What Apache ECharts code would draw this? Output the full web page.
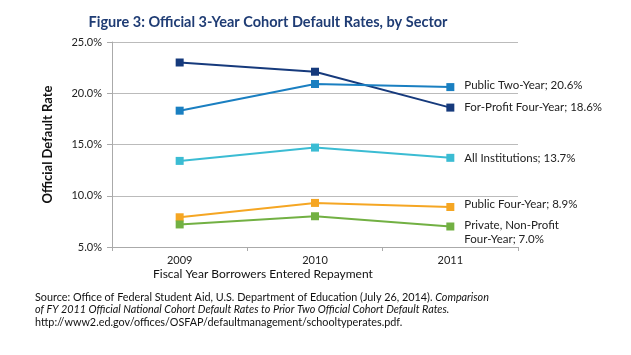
<!DOCTYPE html>
<html><head><meta charset="utf-8">
<script src="https://cdn.jsdelivr.net/npm/echarts@6/dist/echarts.min.js"></script>
<style>html,body{margin:0;padding:0;background:#fff}#c{width:631px;height:355px}</style>
</head><body><div id="c"></div>
<script>
const categories = ['2009', '2010', '2011'];
const forProfitFour = [23.0, 22.1, 18.6];
const publicTwo = [18.3, 20.9, 20.6];
const allInst = [13.4, 14.7, 13.7];
const publicFour = [7.9, 9.3, 8.9];
const privateNonProfit = [7.2, 8.0, 7.0];
const yTicks = [5, 10, 15, 20, 25];

const FONT = 'Lato';
function mk(name, data, color, labelText, lab) {
  return {
    name, type: 'line', data: data.map((v, i) => {
      if (i === data.length - 1) {
        return { value: v, label: Object.assign({ show: true, position: 'right', distance: 10,
          formatter: labelText, color: '#222', fontFamily: FONT, fontSize: 11.5, lineHeight: 14 }, lab || {}) };
      }
      return v;
    }),
    symbol: 'rect', symbolSize: 8, color, lineStyle: { width: 2, color },
    itemStyle: { color }, animation: false
  };
}
const chart = echarts.init(document.getElementById('c'));
chart.setOption({
  animation: false,
  textStyle: { fontFamily: FONT },
  grid: { left: 112, right: 113, top: 42, bottom: 108 },
  title: { text: 'Figure 3: Official 3-Year Cohort Default Rates, by Sector', left: 263, top: 10, textAlign: 'center',
    textStyle: { color: '#1f3c74', fontFamily: FONT, fontSize: 14.5, fontWeight: 'bold' } },
  xAxis: { type: 'category', data: categories, boundaryGap: true,
    axisLine: { lineStyle: { color: '#aaa' } }, axisTick: { show: true, length: 4, lineStyle: { color: '#aaa' } },
    axisLabel: { color: '#222', fontSize: 11, margin: 8, fontFamily: FONT } },
  yAxis: { type: 'value', min: yTicks[0], max: yTicks[yTicks.length - 1], interval: 5,
    axisLine: { show: true, lineStyle: { color: '#aaa' } }, axisTick: { show: true, length: 5, lineStyle: { color: '#aaa' } },
    splitLine: { lineStyle: { color: '#bbb' } },
    axisLabel: { color: '#222', fontSize: 11, margin: 10, fontFamily: FONT, formatter: v => v.toFixed(1) + '%' },
    name: 'Official Default Rate', nameLocation: 'middle', nameGap: 58, nameRotate: 90,
    nameTextStyle: { fontWeight: 'bold', fontSize: 13, color: '#111', fontFamily: FONT } },
  series: [
    mk('For-Profit Four-Year', forProfitFour, '#163a7c', 'For-Profit Four-Year; 18.6%'),
    mk('Public Two-Year', publicTwo, '#1a7fc1', 'Public Two-Year; 20.6%', { offset: [0, -2] }),
    mk('All Institutions', allInst, '#3bbcd3', 'All Institutions; 13.7%'),
    mk('Public Four-Year', publicFour, '#f5a623', 'Public Four-Year; 8.9%', { offset: [0, -3] }),
    mk('Private, Non-Profit Four-Year', privateNonProfit, '#72b043', 'Private, Non-Profit\nFour-Year; 7.0%', { offset: [0, 6] })
  ],
  graphic: [
    { type: 'text', left: 153, top: 268, style: { text: 'Fiscal Year Borrowers Entered Repayment', fontFamily: FONT, fontSize: 12, fill: '#111' } },
    { type: 'text', left: 35, top: 291, style: {
      text: '{n|Source: Office of Federal Student Aid, U.S. Department of Education (July 26, 2014). }{i|Comparison}\n{i|of FY 2011 Official National Cohort Default Rates to Prior Two Official Cohort Default Rates.}\n{n|http://www2.ed.gov/offices/OSFAP/defaultmanagement/schooltyperates.pdf.}',
      fontFamily: FONT, fontSize: 11, lineHeight: 12.5, fill: '#111',
      rich: { n: { fontFamily: FONT, fontSize: 10.8, lineHeight: 12.5, fill: '#111' },
              i: { fontFamily: FONT, fontSize: 10.8, lineHeight: 12.5, fontStyle: 'italic', fill: '#111' } } } }
  ]
});
</script></body></html>
